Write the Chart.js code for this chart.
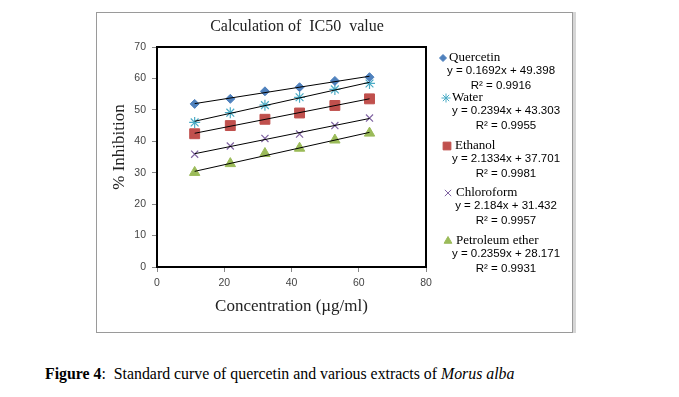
<!DOCTYPE html>
<html>
<head>
<meta charset="utf-8">
<script src="https://cdn.jsdelivr.net/npm/chart.js@4/dist/chart.umd.min.js"></script>
<style>
  html, body { margin: 0; padding: 0; background: #fff; }
  body { width: 679px; height: 397px; position: relative; overflow: hidden; }
  #frame { position: absolute; left: 96px; top: 12px; width: 475px; height: 319px; border: 1px solid #9a9a9a; box-shadow: 3px 0 0 #d6d6d6; background: #fff; }
  #caption { position: absolute; left: 45px; top: 363px; font-family: "Liberation Serif", "Times New Roman", serif; font-size: 17.5px; color: #000; white-space: nowrap; transform-origin: 0 0; transform: scaleX(0.905); }
  #caption b { font-weight: bold; }
</style>
</head>
<body>
<div id="frame"><canvas id="chart" width="475" height="319"></canvas></div>
<div id="caption"><b>Figure 4</b>:&nbsp; Standard curve of quercetin and various extracts of <i>Morus alba</i></div>
<script>
// values
const concentration = [11.2, 21.8, 32.1, 42.4, 52.9, 63.2];
const quercetin = [51.9, 53.5, 55.9, 57.2, 59.2, 60.4];
const water = [46.0, 49.1, 51.5, 54.0, 56.5, 58.4];
const ethanol = [42.4, 45.0, 47.0, 49.0, 51.4, 53.5];
const chloroform = [35.9, 38.5, 40.9, 42.3, 45.0, 47.4];
const petroleumEther = [30.1, 32.9, 36.1, 37.8, 40.4, 42.6];

const seriesNames = ['Quercetin', 'Water', 'Ethanol', 'Chloroform', 'Petroleum ether'];
const equations = ['y = 0.1692x + 49.398', 'y = 0.2394x + 43.303', 'y = 2.1334x + 37.701', 'y = 2.184x + 31.432', 'y = 0.2359x + 28.171'];
const rSquared = ['R\u00B2 = 0.9916', 'R\u00B2 = 0.9955', 'R\u00B2 = 0.9981', 'R\u00B2 = 0.9957', 'R\u00B2 = 0.9931'];
const yTicks = [0, 10, 20, 30, 40, 50, 60, 70];
const xTicks = [0, 20, 40, 60, 80];

const SERIF = '"Liberation Serif", "Times New Roman", serif';
const SANS = '"Liberation Sans", Arial, sans-serif';

const STYLES = [
  { color: '#4F81BD', style: 'rectRot', r: 4.5, lr: 3.5 },
  { color: '#4BACC6', style: 'star', r: 5.5, lr: 4.5 },
  { color: '#C0504D', style: 'rect', r: 7, lr: 5.5 },
  { color: '#8064A2', style: 'crossRot', r: 5, lr: 4.5 },
  { color: '#9BBB59', style: 'triangle', r: 6, lr: 4.5 }
];
const allSeries = [quercetin, water, ethanol, chloroform, petroleumEther];

// excel-style linear trendline through the plotted points
function trend(ys) {
  const n = ys.length;
  const mx = concentration.reduce((a, b) => a + b, 0) / n;
  const my = ys.reduce((a, b) => a + b, 0) / n;
  let sxy = 0, sxx = 0;
  concentration.forEach((x, i) => { sxy += (x - mx) * (ys[i] - my); sxx += (x - mx) * (x - mx); });
  const b = sxy / sxx, a = my - b * mx;
  const x0 = concentration[0], x1 = concentration[n - 1];
  return [{ x: x0, y: a + b * x0 }, { x: x1, y: a + b * x1 }];
}

const datasets = [];
allSeries.forEach((ys, i) => {
  const s = STYLES[i];
  datasets.push({
    type: 'scatter', label: seriesNames[i],
    data: ys.map((y, j) => ({ x: concentration[j], y })),
    pointStyle: s.style, pointRadius: s.r, pointHoverRadius: s.r,
    backgroundColor: s.color, borderColor: s.color,
    pointBorderWidth: (s.style === 'star' || s.style === 'crossRot') ? 1.2 : 1,
    order: 1
  });
});
allSeries.forEach((ys, i) => {
  datasets.push({
    type: 'line', label: 'Linear (' + seriesNames[i] + ')',
    data: trend(ys), borderColor: '#000', borderWidth: 1,
    pointRadius: 0, fill: false, tension: 0, order: 0
  });
});

// legend rows: marker x, name x, centre x of equation block, row y
const legendRows = [
  { mx: 346, tx: 352, cx: 404, y: 45 },
  { mx: 349, tx: 355, cx: 409, y: 85 },
  { mx: 350, tx: 358, cx: 409, y: 133 },
  { mx: 351, tx: 359, cx: 409, y: 180 },
  { mx: 351, tx: 359, cx: 409, y: 228 }
];

const framePlugin = {
  id: 'frame',
  afterLayout(chart) {
    const tb = chart.titleBlock;
    if (tb) { tb.left = 200 - 240; tb.right = 200 + 240; }
    const ys = chart.scales.y;
    if (ys && !ys._shifted) {
      const orig = ys.drawTitle.bind(ys);
      ys.drawTitle = function () { const c = this.ctx; c.save(); c.translate(0, -10); orig(); c.restore(); };
      ys._shifted = true;
    }
  },
  beforeDatasetsDraw(chart) {
    const { ctx, chartArea: a } = chart;
    ctx.save();
    ctx.strokeStyle = '#000'; ctx.lineWidth = 2;
    ctx.strokeRect(a.left, a.top, a.right - a.left, a.bottom - a.top);
    ctx.restore();
  },
  afterDraw(chart) {
    const ctx = chart.ctx;
    ctx.save();
    legendRows.forEach((row, i) => {
      const s = STYLES[i];
      ctx.fillStyle = s.color; ctx.strokeStyle = s.color;
      Chart.helpers.drawPoint(ctx, { pointStyle: s.style, radius: s.lr, rotation: 0, borderWidth: 1 }, row.mx, row.y);
      ctx.fillStyle = '#000';
      ctx.textBaseline = 'middle';
      ctx.textAlign = 'left';
      ctx.font = '13px ' + SERIF;
      ctx.fillText(seriesNames[i], row.tx, row.y);
      ctx.textAlign = 'center';
      ctx.font = '11.5px ' + SANS;
      ctx.fillText(equations[i], row.cx, row.y + 13);
      ctx.fillText(rSquared[i], row.cx, row.y + 28);
    });
    ctx.restore();
  }
};

new Chart(document.getElementById('chart'), {
  data: { datasets },
  options: {
    responsive: false,
    animation: false,
    layout: { padding: { left: 0, right: 146, top: 0, bottom: 0 } },
    plugins: {
      legend: { display: false },
      tooltip: { enabled: false },
      title: {
        display: true, text: 'Calculation of  IC50  value', color: '#222',
        font: { family: SERIF, size: 16, weight: 'normal' },
        padding: { top: 4.4, bottom: 10.4 }
      }
    },
    scales: {
      x: {
        type: 'linear', min: 0, max: 80,
        afterBuildTicks: s => { s.ticks = xTicks.map(v => ({ value: v })); },
        afterFit: s => { s.height = 65; },
        grid: { drawOnChartArea: false, drawTicks: true, tickLength: 5, color: '#888' },
        border: { display: true, color: '#000', width: 2 },
        ticks: { color: '#444', font: { family: SANS, size: 10.5 }, padding: 5 },
        title: { display: true, text: 'Concentration (\u00B5g/ml)', color: '#222', font: { family: SERIF, size: 17 }, padding: { top: 0, bottom: 15 } }
      },
      y: {
        type: 'linear', min: 0, max: 70,
        afterBuildTicks: s => { s.ticks = yTicks.map(v => ({ value: v })); },
        afterFit: s => { s.width = 60; },
        grid: { drawOnChartArea: false, drawTicks: true, tickLength: 5, color: '#888' },
        border: { display: true, color: '#000', width: 2 },
        ticks: { color: '#444', font: { family: SANS, size: 10.5 }, padding: 6 },
        title: { display: true, text: '% Inhibition', color: '#222', font: { family: SERIF, size: 17 }, padding: { top: 12.8, bottom: 0 } }
      }
    }
  },
  plugins: [framePlugin]
});
</script>
</body>
</html>
